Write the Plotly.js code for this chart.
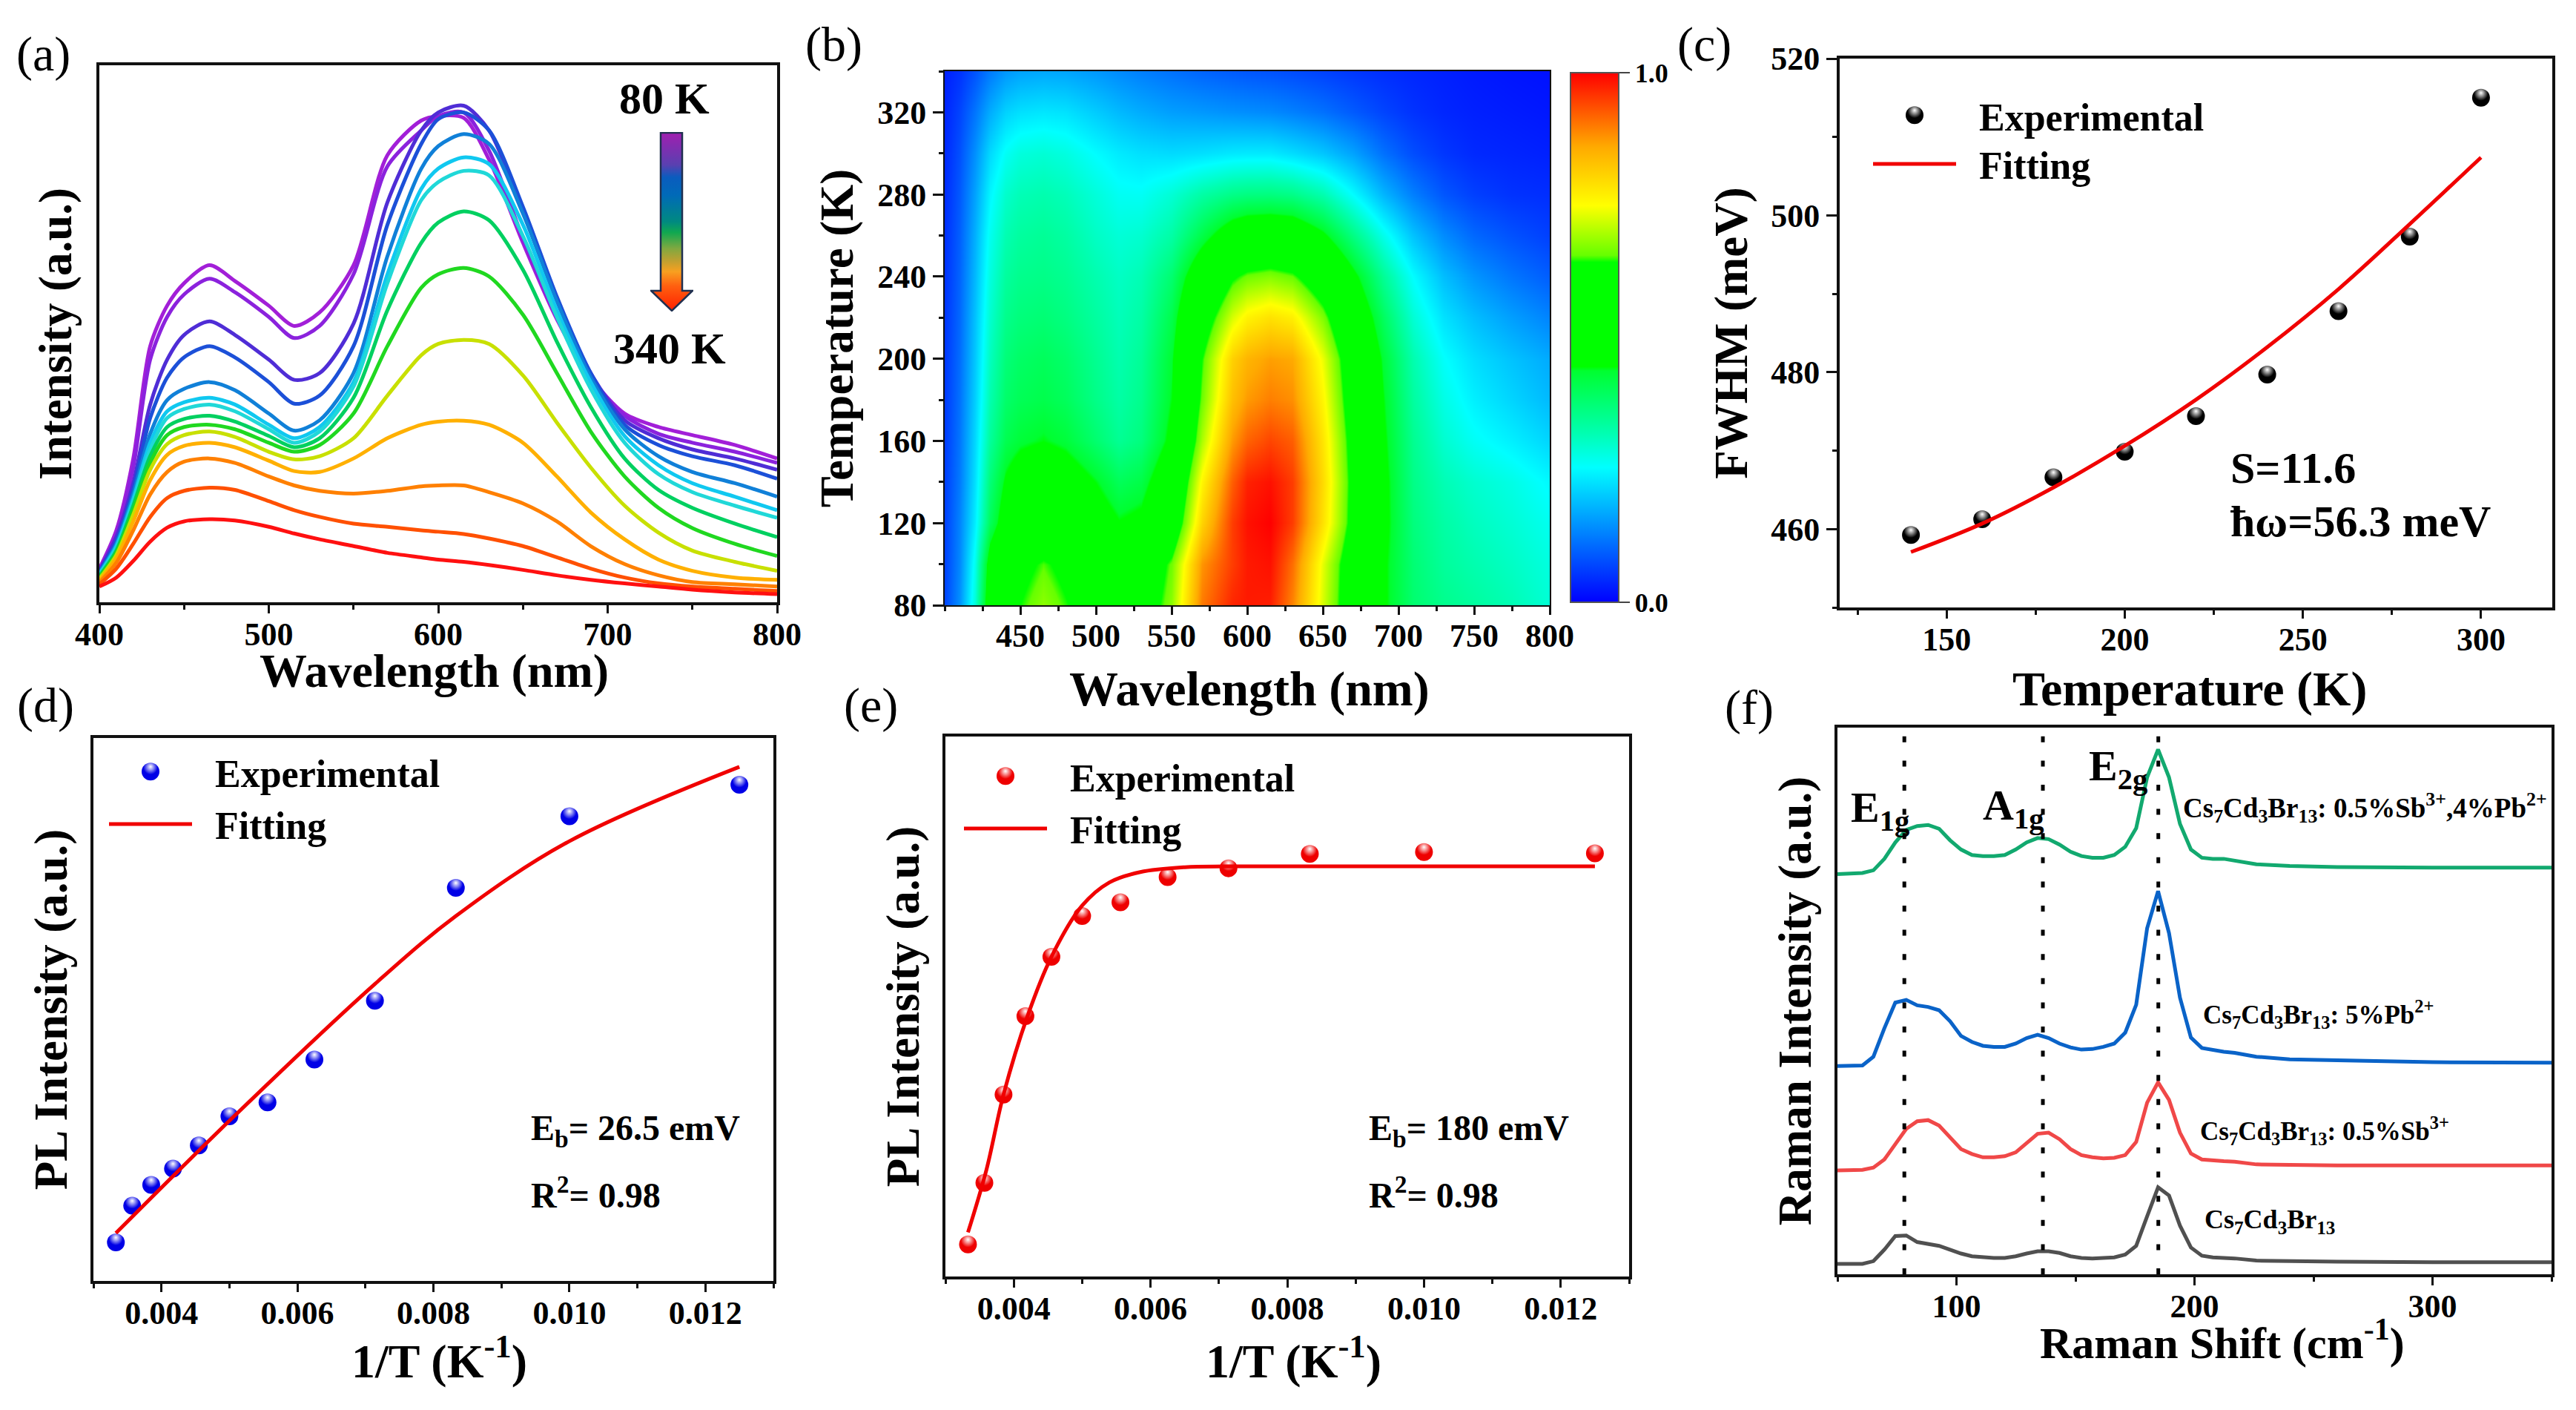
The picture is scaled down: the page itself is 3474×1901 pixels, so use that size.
<!DOCTYPE html>
<html>
<head>
<meta charset="utf-8">
<script src="https://cdn.plot.ly/plotly-3.0.1.min.js"></script>
<style>
  html, body { margin: 0; padding: 0; background: #fff; }
</style>
</head>
<body>
<div id="chart"></div>
<script>
const W = 3474;
const H = 1901;
const SERIF = "Liberation Serif";

// (a) PL spectra, 80 K to 340 K in 20 K steps
const wavelengths = [400, 410, 420, 430, 440, 450, 465, 480, 500, 515, 530, 550, 570, 590, 600, 615, 630, 650, 670, 690, 710, 730, 750, 775, 800];
const temperatures = [80, 100, 120, 140, 160, 180, 200, 220, 240, 260, 280, 300, 320, 340];
const spectrum80 = [75, 160, 320, 570, 660, 710, 750, 715, 660, 615, 645, 750, 995, 1072, 1082, 1078, 985, 800, 630, 500, 420, 390, 372, 350, 320];
const spectrum100 = [72, 150, 300, 540, 635, 685, 720, 690, 635, 588, 615, 730, 970, 1050, 1082, 1090, 1005, 810, 635, 500, 415, 375, 355, 335, 310];
const spectrum120 = [70, 145, 265, 440, 540, 595, 625, 595, 540, 495, 510, 620, 890, 1050, 1090, 1105, 1050, 870, 675, 510, 405, 365, 340, 320, 295];
const spectrum140 = [68, 135, 250, 410, 500, 545, 570, 545, 490, 442, 460, 570, 840, 1020, 1075, 1090, 1050, 880, 680, 510, 395, 350, 325, 305, 275];
const spectrum160 = [65, 130, 240, 375, 450, 475, 490, 472, 420, 382, 405, 510, 770, 965, 1015, 1042, 1020, 865, 670, 500, 385, 325, 290, 265, 235];
const spectrum180 = [63, 125, 230, 355, 425, 445, 455, 440, 395, 365, 390, 490, 730, 920, 965, 990, 975, 840, 650, 490, 370, 305, 265, 235, 205];
const spectrum200 = [61, 120, 222, 340, 410, 430, 440, 425, 385, 355, 380, 480, 710, 895, 935, 960, 950, 815, 635, 475, 355, 285, 245, 215, 188];
const spectrum220 = [58, 115, 215, 325, 390, 408, 415, 402, 370, 345, 365, 455, 650, 800, 845, 870, 850, 740, 580, 435, 320, 250, 210, 175, 145];
const spectrum240 = [55, 110, 205, 310, 372, 390, 395, 385, 355, 335, 350, 420, 570, 700, 730, 744, 725, 640, 510, 380, 280, 210, 165, 130, 103];
const spectrum260 = [52, 105, 195, 295, 352, 372, 380, 368, 335, 318, 325, 365, 460, 550, 575, 584, 575, 505, 400, 300, 215, 155, 115, 90, 70];
const spectrum280 = [48, 98, 180, 272, 328, 348, 355, 345, 315, 292, 290, 320, 365, 395, 402, 404, 395, 355, 280, 200, 140, 95, 70, 55, 50];
const spectrum300 = [44, 88, 160, 240, 290, 313, 320, 310, 280, 260, 248, 242, 248, 258, 260, 260, 245, 220, 180, 125, 85, 60, 45, 40, 35];
const spectrum320 = [40, 75, 130, 190, 232, 248, 255, 250, 225, 205, 190, 175, 168, 160, 157, 152, 142, 125, 100, 75, 55, 42, 35, 30, 25];
const spectrum340 = [35, 55, 92, 135, 166, 180, 185, 182, 168, 153, 140, 125, 110, 100, 95, 90, 83, 72, 60, 50, 42, 35, 28, 22, 18];
const spectra = [spectrum80, spectrum100, spectrum120, spectrum140, spectrum160, spectrum180, spectrum200, spectrum220, spectrum240, spectrum260, spectrum280, spectrum300, spectrum320, spectrum340];
const spectrumColors = ["#a21fd8", "#8b22dd", "#4f2dd6", "#1c50d8", "#1080d8", "#10c8f0", "#20d8d8", "#00d060", "#20d820", "#c8e000", "#ffb000", "#ff8000", "#ff5000", "#ff1010"];

// (c) FWHM vs temperature
const fwhmTemps = [140, 160, 180, 200, 220, 240, 260, 280, 300];
const fwhmExp = [459.25, 461.26, 466.6, 469.87, 474.4, 479.7, 487.8, 497.3, 515.0];
const fwhmFit = [457.07, 460.7, 465.3, 470.6, 476.5, 483.2, 490.6, 498.9, 507.4];

// (d) and (e) share the same 1/T points
const inverseT = [0.00333, 0.00357, 0.00385, 0.00417, 0.00455, 0.005, 0.00556, 0.00625, 0.00714, 0.00833, 0.01, 0.0125];
const plExpD = [7.09, 13.85, 17.69, 20.68, 24.96, 30.34, 32.9, 40.77, 51.6, 72.4, 85.6, 91.4];
const fitXD = [0.00333, 0.005, 0.00714, 0.00833, 0.01, 0.0125];
const fitYD = [8.8, 29.5, 54.7, 67.2, 81, 94.7];
const plExpE = [5.93, 17.35, 33.68, 48.2, 59.2, 66.75, 69.3, 73.97, 75.6, 78.26, 78.6, 78.35];
const fitXE = [0.00333, 0.0036, 0.00385, 0.0042, 0.00455, 0.005, 0.0054, 0.00585, 0.0065, 0.0071, 0.008, 0.0125];
const fitYE = [8.16, 19.76, 33.7, 48.2, 59.2, 68.7, 73, 74.9, 75.8, 75.95, 75.95, 75.95];

// (f) Raman spectra
const ramanShift = [50, 60.5, 65.1, 69.7, 74.3, 78.9, 83.5, 88.1, 92.7, 97.3, 101.9, 106.5, 111.1, 115.7, 120.3, 124.9, 129.5, 134.1, 138.7, 143.3, 147.9, 152.5, 157.1, 161.7, 166.3, 170.9, 175.5, 180.1, 184.7, 189.3, 193.9, 198.5, 203.1, 207.7, 212.3, 216.9, 226, 240, 260, 300, 350];
const ramanPure = [1.9, 1.9, 2.4, 4.5, 7.0, 7.1, 5.9, 5.5, 5.2, 4.5, 3.8, 3.3, 3.1, 3.0, 3.0, 3.3, 3.8, 4.2, 4.2, 3.9, 3.3, 3.0, 2.9, 3.0, 3.1, 3.6, 5.2, 10.6, 15.9, 14.4, 8.9, 4.9, 3.4, 3.1, 3.0, 2.9, 2.5, 2.4, 2.3, 2.2, 2.2];
const ramanSb = [19.0, 19.1, 19.5, 21.0, 23.8, 26.6, 28.0, 28.2, 27.2, 25.0, 22.9, 22.0, 21.4, 21.4, 21.6, 22.3, 24.0, 25.7, 25.9, 24.7, 22.9, 21.8, 21.4, 21.2, 21.3, 21.8, 24.2, 31.4, 35.1, 31.9, 25.9, 22.1, 21.0, 20.8, 20.7, 20.6, 20.1, 20.0, 19.9, 19.9, 19.9];
const ramanPb = [38.1, 38.2, 39.8, 45.0, 49.7, 50.2, 49.2, 48.9, 48.3, 46.3, 43.6, 42.5, 41.8, 41.6, 41.6, 42.2, 43.2, 43.8, 43.2, 42.2, 41.5, 41.1, 41.2, 41.6, 42.2, 44.2, 49.3, 63.3, 70.1, 62.4, 50.6, 43.3, 41.4, 41.0, 40.7, 40.5, 39.8, 39.3, 39.1, 38.8, 38.7];
const ramanSbPb = [73.2, 73.4, 73.9, 76.0, 79.0, 81.3, 82.0, 82.2, 81.5, 79.4, 77.7, 76.7, 76.5, 76.5, 76.7, 77.7, 79.0, 79.8, 79.6, 78.6, 77.3, 76.5, 76.2, 76.2, 76.7, 78.2, 81.6, 90.9, 96.0, 90.9, 82.4, 77.7, 76.2, 76.0, 76.0, 75.7, 75.0, 74.7, 74.5, 74.4, 74.4];
const ramanModes = [78.1, 136.3, 184.8];

const heatColors = [
  [0, "#0000ff"], [0.255, "#00ffff"], [0.32, "#00ffb0"], [0.437, "#00ff30"], [0.445, "#00ff00"],
  [0.642, "#00ff00"], [0.655, "#66ff00"], [0.749, "#ffff00"], [0.86, "#ffaa00"], [1, "#ff0000"],
];

const font = (size, weight = 700) => ({ family: SERIF, size: size, color: "#000", weight: weight });

function xAxis(left, right, anchor, opts) {
  return Object.assign({
    domain: [left / W, right / W], anchor: anchor, showline: true, mirror: true, linecolor: "#111", linewidth: 4,
    ticks: "outside", ticklen: 11, tickwidth: 3, tickcolor: "#111", tickfont: font(44), ticklabelstandoff: -10,
    showgrid: false, zeroline: false,
  }, opts);
}

function yAxis(top, bottom, anchor, opts) {
  return Object.assign({
    domain: [1 - bottom / H, 1 - top / H], anchor: anchor, showline: true, mirror: true, linecolor: "#111", linewidth: 4,
    ticks: "", tickfont: font(44), showticklabels: false, showgrid: false, zeroline: false,
  }, opts);
}

const minor = (dtick, ticks = "outside") => ({ dtick: dtick, ticks: ticks, ticklen: 6, tickwidth: 3, tickcolor: "#111", showgrid: false });

function note(text, x, y, size, anchor = "left", extra = {}) {
  return Object.assign({
    text: text, x: x / W, y: 1 - y / H, xref: "paper", yref: "paper", xanchor: anchor, yanchor: "middle",
    showarrow: false, font: font(size),
  }, extra);
}

const traces = [];

spectra.forEach((row, i) => {
  traces.push({
    x: wavelengths, y: row, xaxis: "x", yaxis: "y", type: "scatter", mode: "lines", showlegend: false,
    line: { color: spectrumColors[i], width: 5, shape: "spline", smoothing: 0.8 },
  });
});

traces.push({
  x: wavelengths, y: temperatures, z: spectra.map((row) => row.map((v) => v / 1105)),
  xaxis: "x2", yaxis: "y2", type: "heatmap", zsmooth: "best", zmin: 0, zmax: 1, colorscale: heatColors,
  colorbar: {
    x: 2118 / W, xanchor: "left", xpad: 0, y: 1 - 812 / H, yanchor: "bottom", ypad: 0,
    thicknessmode: "pixels", thickness: 65, lenmode: "pixels", len: 714,
    tickvals: [0, 1], ticktext: ["0.0", "1.0"], tickfont: font(36), ticks: "outside", ticklen: 14, tickwidth: 2,
    outlinecolor: "#555", outlinewidth: 2,
  },
});

function ballTrace(x, y, xaxis, yaxis, color, legend) {
  return {
    x: x, y: y, xaxis: xaxis, yaxis: yaxis, type: "scatter", mode: "markers", name: "\u00a0\u00a0Experimental", legend: legend,
    marker: { size: 24, color: color, gradient: { type: "radial", color: "#ffffff" } },
  };
}

function fitTrace(x, y, xaxis, yaxis, legend) {
  return {
    x: x, y: y, xaxis: xaxis, yaxis: yaxis, type: "scatter", mode: "lines", name: "\u00a0\u00a0Fitting", legend: legend,
    line: { color: "#f00000", width: 5, shape: "spline" },
  };
}

traces.push(ballTrace(fwhmTemps, fwhmExp, "x3", "y3", "#000000", "legend"));
traces.push(fitTrace(fwhmTemps, fwhmFit, "x3", "y3", "legend"));
traces.push(ballTrace(inverseT, plExpD, "x4", "y4", "#0000e6", "legend2"));
traces.push(fitTrace(fitXD, fitYD, "x4", "y4", "legend2"));
traces.push(ballTrace(inverseT, plExpE, "x5", "y5", "#ee0000", "legend3"));
traces.push(fitTrace(fitXE, fitYE, "x5", "y5", "legend3"));

[[ramanPure, "#505050"], [ramanSb, "#f04848"], [ramanPb, "#0a63c8"], [ramanSbPb, "#12a96f"]].forEach(([vals, color]) => {
  traces.push({
    x: ramanShift, y: vals, xaxis: "x6", yaxis: "y6", type: "scatter", mode: "lines", showlegend: false,
    line: { color: color, width: 5 },
  });
});

ramanModes.forEach((m) => {
  traces.push({
    x: [m, m], y: [0, 98.8], xaxis: "x6", yaxis: "y6", type: "scatter", mode: "lines", showlegend: false,
    line: { color: "#000", width: 5, dash: "8px,24.6px" },
  });
});

const arrowSvg =
  '<svg xmlns="http://www.w3.org/2000/svg" viewBox="0 0 58 242" preserveAspectRatio="none">' +
  '<defs><linearGradient id="g" x1="0" y1="0" x2="0" y2="1">' +
  '<stop offset="0" stop-color="#a01fb0"/><stop offset="0.18" stop-color="#5a40b0"/><stop offset="0.25" stop-color="#0a5cbe"/>' +
  '<stop offset="0.35" stop-color="#006ab8"/><stop offset="0.5" stop-color="#008a80"/><stop offset="0.56" stop-color="#10a850"/>' +
  '<stop offset="0.65" stop-color="#80a840"/><stop offset="0.72" stop-color="#c0a030"/><stop offset="0.78" stop-color="#f8a020"/>' +
  '<stop offset="0.86" stop-color="#ff6010"/><stop offset="1" stop-color="#ff2000"/></linearGradient></defs>' +
  '<path d="M14 1H43V214H57L29 241L1 214H14Z" fill="url(#g)" stroke="#203050" stroke-width="2.5"/></svg>';

const legendBase = {
  bgcolor: "rgba(0,0,0,0)", borderwidth: 0, xanchor: "left", yanchor: "top", itemwidth: 112, itemclick: false,
  font: font(52), tracegroupgap: 0,
};

const layout = {
  width: W, height: H, margin: { l: 0, r: 0, t: 0, b: 0 }, paper_bgcolor: "#fff", plot_bgcolor: "rgba(0,0,0,0)",
  font: font(44),
  xaxis: xAxis(134, 1048, "y", { range: [400, 800], tickvals: [400, 500, 600, 700, 800], minor: minor(50) }),
  yaxis: yAxis(88, 812, "x", {
    range: [0, 1195],
    // the nbsp padding nudges the title off the axis centre, as in the original
    title: { text: "\u00a0\u00a0Intensity (a.u.)", font: font(63), standoff: 14 },
  }),
  xaxis2: xAxis(1274, 2090, "y2", { range: [400, 800], tickvals: [450, 500, 550, 600, 650, 700, 750, 800], minor: minor(25), linewidth: 2 }),
  yaxis2: yAxis(96, 816, "x2", {
    range: [80, 340], ticks: "outside", ticklen: 14, tickwidth: 3, tickcolor: "#111", showticklabels: true,
    tickvals: [80, 120, 160, 200, 240, 280, 320], minor: minor(20), linewidth: 2,
    title: { text: "Temperature (K)\u00a0\u00a0\u00a0\u00a0\u00a0\u00a0", font: font(63), standoff: 12 },
  }),
  xaxis3: xAxis(2481, 3442, "y3", { range: [120, 320], tickvals: [150, 200, 250, 300], minor: minor(25) }),
  yaxis3: yAxis(79, 819, "x3", {
    range: [450, 520], ticks: "outside", ticklen: 14, tickwidth: 3, tickcolor: "#111", showticklabels: true,
    tickvals: [460, 480, 500, 520], minor: minor(10),
    title: { text: "FWHM (meV)", font: font(63), standoff: 12 },
  }),
  xaxis4: xAxis(126, 1043, "y4", { range: [0.003, 0.013], tickvals: [0.004, 0.006, 0.008, 0.01, 0.012], tickformat: ".3f", minor: minor(0.001) }),
  yaxis4: yAxis(995, 1727, "x4", {
    range: [0, 100],
    title: { text: "PL Intensity (a.u.)", font: font(63), standoff: 12 },
  }),
  xaxis5: xAxis(1275, 2197, "y5", { range: [0.003, 0.013], tickvals: [0.004, 0.006, 0.008, 0.01, 0.012], tickformat: ".3f", minor: minor(0.001) }),
  yaxis5: yAxis(993, 1721, "x5", {
    range: [0, 100],
    title: { text: "PL Intensity (a.u.)", font: font(63), standoff: 12 },
  }),
  xaxis6: xAxis(2478, 3441, "y6", { range: [50, 350], tickvals: [100, 200, 300], minor: minor(50) }),
  yaxis6: yAxis(981, 1718, "x6", {
    range: [0, 100],
    title: { text: "Raman Intensity (a.u.)", font: font(63), standoff: 12 },
  }),
  legend: Object.assign({}, legendBase, { x: 2521 / W, y: 1 - 115 / H }),
  legend2: Object.assign({}, legendBase, { x: 142 / W, y: 1 - 1000 / H }),
  legend3: Object.assign({}, legendBase, { x: 1295 / W, y: 1 - 1006 / H }),
  images: [{
    source: "data:image/svg+xml," + encodeURIComponent(arrowSvg), xref: "paper", yref: "paper",
    x: 877 / W, y: 1 - 178 / H, sizex: 58 / W, sizey: 242 / H, sizing: "stretch", xanchor: "left", yanchor: "top", layer: "above",
  }],
  annotations: [
    note("(a)", 20, 73, 66, "left", { font: font(66, 400) }),
    note("(b)", 1084, 60, 66, "left", { font: font(66, 400) }),
    note("(c)", 2260, 60, 66, "left", { font: font(66, 400) }),
    note("(d)", 21, 951, 66, "left", { font: font(66, 400) }),
    note("(e)", 1136, 951, 66, "left", { font: font(66, 400) }),
    note("(f)", 2324, 954, 66, "left", { font: font(66, 400) }),
    note("80 K", 896, 133, 60, "center"),
    note("340 K", 903, 470, 60, "center"),
    note("Wavelength (nm)", 585, 905, 64, "center"),
    note("Wavelength (nm)", 1685, 929, 66, "center"),
    note("Temperature (K)", 2953, 929, 66, "center"),
    note("1/T (K<sup>-1</sup>)", 592, 1830, 64, "center"),
    note("1/T (K<sup>-1</sup>)", 1744, 1830, 64, "center"),
    note("Raman Shift (cm<sup>-1</sup>)", 2997, 1806, 60, "center"),
    note("S=11.6", 3006, 631, 60),
    note("ħω=56.3 meV", 3006, 703, 60),
    note("E<sub>b</sub>= 26.5 emV", 714, 1524, 48),
    note("R<sup>2</sup>= 0.98", 714, 1608, 48),
    note("E<sub>b</sub>= 180 emV", 1844, 1524, 48),
    note("R<sup>2</sup>= 0.98", 1844, 1608, 48),
    note("E<sub>1g</sub>", 2494, 1092, 58),
    note("A<sub>1g</sub>", 2672, 1089, 58),
    note("E<sub>2g</sub>", 2815, 1036, 58),
    note("Cs<sub>7</sub>Cd<sub>3</sub>Br<sub>13</sub>: 0.5%Sb<sup>3+</sup>,4%Pb<sup>2+</sup>", 2942, 1089, 37),
    note("Cs<sub>7</sub>Cd<sub>3</sub>Br<sub>13</sub>: 5%Pb<sup>2+</sup>", 2969, 1367, 35),
    note("Cs<sub>7</sub>Cd<sub>3</sub>Br<sub>13</sub>: 0.5%Sb<sup>3+</sup>", 2965, 1524, 35),
    note("Cs<sub>7</sub>Cd<sub>3</sub>Br<sub>13</sub>", 2971, 1646, 36),
  ],
};

Plotly.newPlot("chart", traces, layout, { displayModeBar: false, staticPlot: true }).then(() => {
  // move the ball highlight up, keep it small, and match legend balls to the data ones
  document.querySelectorAll("radialGradient").forEach((g) => {
    g.setAttribute("cy", "0.3");
    g.setAttribute("fy", "0.22");
    g.setAttribute("r", "0.8");
    const stops = g.querySelectorAll("stop");
    stops[stops.length - 1].setAttribute("offset", "0.5");
  });
  document.querySelectorAll(".legendpoints .scatterpts").forEach((p) => {
    p.setAttribute("d", "M12,0A12,12 0 1,1 0,-12A12,12 0 0,1 12,0Z");
  });
  // legend rows sit closer together in the original
  document.querySelectorAll(".legend .traces:nth-child(2)").forEach((row) => {
    const m = row.getAttribute("transform").match(/translate\(([-\d.]+),\s*([-\d.]+)\)/);
    row.setAttribute("transform", `translate(${m[1]},${parseFloat(m[2]) - 5})`);
  });
});
</script>
</body>
</html>
